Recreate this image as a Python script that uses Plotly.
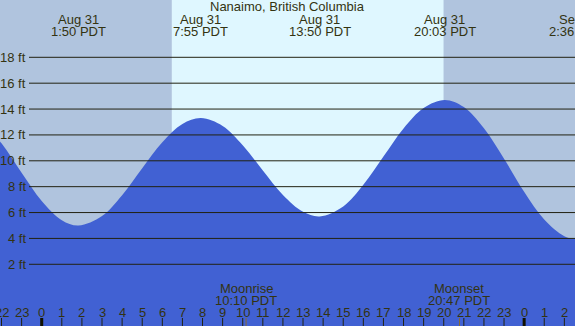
import plotly.graph_objects as go

# ---- data (hours relative to midnight Aug 31, heights in ft) ----
tide_hours = [-3, -2, -1, 0, 1, 1.83, 3, 4, 5, 6, 7, 7.92, 9, 10, 11, 12, 13, 13.83,
              15, 16, 17, 18, 19, 20.05, 21, 22, 23, 24, 25, 26, 26.6, 27.5]
tide_heights = [13.15, 11.35, 9.07, 6.89, 5.41, 5.0, 5.73, 7.34, 9.42, 11.43, 12.84, 13.3,
                12.69, 11.20, 9.25, 7.36, 6.06, 5.7, 6.47, 8.14, 10.33, 12.50, 14.08, 14.7,
                14.15, 12.51, 10.16, 7.61, 5.46, 4.17, 3.95, 4.1]

event_hours = [1.833, 7.917, 13.833, 20.05, 26.6]
event_dates = ["Aug 31", "Aug 31", "Aug 31", "Aug 31", "Sep 1"]
event_times = ["1:50 PDT", "7:55 PDT", "13:50 PDT", "20:03 PDT", "2:36 PDT"]

sunrise_hour = 6.47
sunset_hour = 19.99

moon_hours = [10.167, 20.783]
moon_names = ["Moonrise", "Moonset"]
moon_times = ["10:10 PDT", "20:47 PDT"]

hour_ticks = list(range(-2, 27))
hour_labels = [str(h % 24) for h in hour_ticks]
midnights = [0, 24]

ft_levels = [2, 4, 6, 8, 10, 12, 14, 16, 18]
ft_labels = [f"{v} ft" for v in ft_levels]

title = "Nanaimo, British Columbia"

# ---- style ----
W, H = 575, 326
X0, X1 = -2.075, 26.53
Y0, Y1 = -2.77, 22.43
NIGHT = "#B0C4DE"
DAY = "#DFF7FF"
WATER = "#4161D3"
TXT = "#333311"
GRID = "#222211"
MOONTICK = "#8a6a30"
FONT = "Liberation Sans, Arial, sans-serif"
FS = 13


def py(px):  # pixel from top -> paper y
    return 1 - px / H


def hx(px):  # pixel from left -> hour
    return X0 + px / W * (X1 - X0)


def hp(h):  # hour -> paper x (lets labels near the edge be clipped, not hidden)
    return (h - X0) / (X1 - X0)


fig = go.Figure()
fig.add_trace(go.Scatter(x=[tide_hours[0], tide_hours[-1]], y=[Y0 - 5, Y0 - 5],
                         mode="lines", line=dict(width=0), hoverinfo="skip", showlegend=False))
fig.add_trace(go.Scatter(x=tide_hours, y=tide_heights, mode="lines",
                         line=dict(width=0, shape="spline", smoothing=1, color=WATER),
                         fill="tonexty", fillcolor=WATER, hoverinfo="skip", showlegend=False))

shapes = []
shapes.append(dict(type="rect", xref="x", yref="paper", x0=sunrise_hour, x1=sunset_hour,
                   y0=0, y1=1, fillcolor=DAY, line=dict(width=0), layer="below"))
gx0 = hx(29)
for v in ft_levels:
    shapes.append(dict(type="line", xref="x", yref="y", x0=gx0, x1=X1 + 1, y0=v, y1=v,
                       line=dict(color=GRID, width=1), layer="above"))
for h in hour_ticks:
    shapes.append(dict(type="line", xref="x", yref="paper", x0=h, x1=h, y0=0, y1=py(318),
                       line=dict(color=GRID, width=1), layer="above"))
for h in midnights:
    shapes.append(dict(type="rect", xref="x", yref="paper", x0=h - 0.075, x1=h + 0.075,
                       y0=0, y1=py(318), fillcolor="#111100", line=dict(width=0), layer="above"))
for h in moon_hours:
    shapes.append(dict(type="line", xref="x", yref="paper", x0=h, x1=h, y0=0, y1=py(318),
                       line=dict(color=MOONTICK, width=1), layer="above"))


def txt(text, x, y, xref="paper", yref="paper", xanchor="center"):
    return dict(text=text, x=x, y=y, xref=xref, yref=yref, xanchor=xanchor,
                yanchor="middle", showarrow=False,
                font=dict(size=FS, color=TXT, family=FONT))


ann = [txt(title, 287 / W, py(7))]
for h, d, t in zip(event_hours, event_dates, event_times):
    ann.append(txt(d, hp(h), py(20)))
    ann.append(txt(t, hp(h), py(32)))
for h, n, t in zip(moon_hours, moon_names, moon_times):
    ann.append(txt(n, hp(h), py(288)))
    ann.append(txt(t, hp(h), py(300)))
for h, lab in zip(hour_ticks, hour_labels):
    ann.append(txt(lab, hp(h), py(312)))
for v, lab in zip(ft_levels, ft_labels):
    a = txt(lab, gx0, v, xref="x", yref="y", xanchor="right")
    a["xshift"] = -1
    ann.append(a)

fig.update_layout(
    width=W, height=H, margin=dict(l=0, r=0, t=0, b=0, pad=0),
    paper_bgcolor=NIGHT, plot_bgcolor=NIGHT,
    xaxis=dict(range=[X0, X1], visible=False, fixedrange=True),
    yaxis=dict(range=[Y0, Y1], visible=False, fixedrange=True),
    shapes=shapes, annotations=ann, showlegend=False,
)
fig.write_html("out.html", config={"displayModeBar": False},
               post_script="document.body.style.margin='0';document.body.style.padding='0';"
                           "document.body.style.overflow='hidden';")
